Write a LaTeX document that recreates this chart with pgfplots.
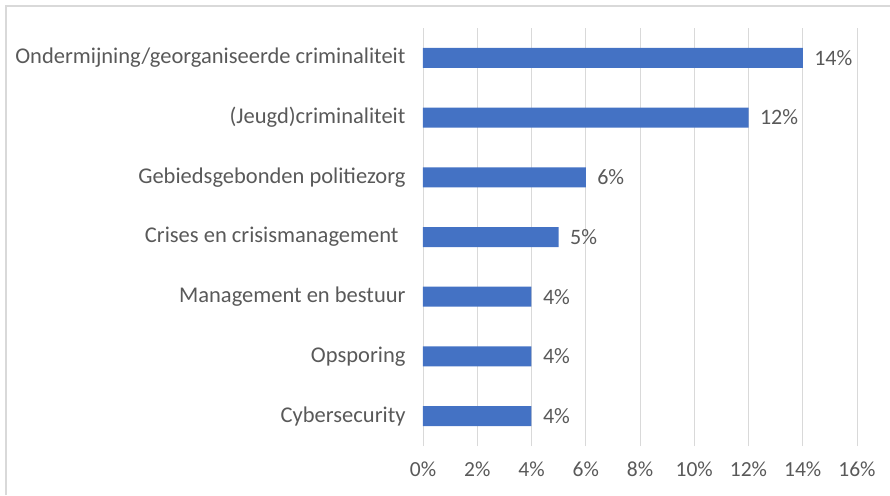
\documentclass[border=0pt]{standalone}
\usepackage{pgfplots}
\pgfplotsset{compat=1.18}
\usepackage{fontspec}
\setmainfont{Carlito}
\definecolor{barblue}{HTML}{4472C4}
\definecolor{txt}{HTML}{595959}
\definecolor{gridc}{HTML}{D9D9D9}

\begin{document}
\begin{tikzpicture}
\useasboundingbox (-423pt,-49pt) rectangle (467pt,446pt);
\draw[gridc, line width=1.2pt] (-417pt,-49pt) -- (-417pt,440pt) -- (467pt,440pt);
\begin{axis}[
    xbar,
    bar width=20pt,
    scale only axis,
    width=434pt,
    height=418pt,
    xmin=0, xmax=16,
    ymin=-0.5, ymax=6.5,
    xtick={0,2,...,16},
    xticklabel={\pgfmathprintnumber{\tick}\%},
    ytick={0,...,6},
    yticklabels={Cybersecurity, Opsporing, Management en bestuur, Crises en crisismanagement\hspace*{7pt}, Gebiedsgebonden politiezorg, (Jeugd)criminaliteit, Ondermijning/georganiseerde criminaliteit},
    axis line style={draw=none},
    major tick length=0pt,
    xmajorgrids,
    grid style={gridc, line width=0.8pt},
    tick label style={text=txt},
    xticklabel style={font=\fontsize{21.5}{24}\selectfont, yshift=-12pt},
    yticklabel style={font=\fontsize{22.5}{26}\selectfont, xshift=-14pt},
    /pgf/number format/assume math mode=true,
    nodes near coords={\pgfmathprintnumber{\pgfplotspointmeta}\%},
    nodes near coords style={font=\fontsize{22}{24}\selectfont, text=txt, xshift=8pt},
    clip=false,
]
\addplot[fill=barblue, draw=none] coordinates {
    (4,0) (4,1) (4,2) (5,3) (6,4) (12,5) (14,6)
};
\end{axis}
\end{tikzpicture}
\end{document}
